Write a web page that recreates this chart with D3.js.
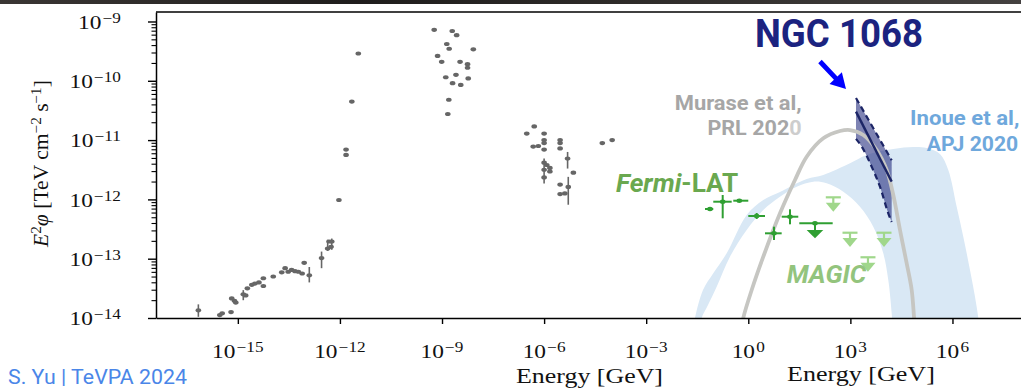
<!DOCTYPE html>
<html>
<head>
<meta charset="utf-8">
<script src="https://cdn.jsdelivr.net/npm/d3@7"></script>
<style>
  html, body { margin: 0; padding: 0; background: #fff; }
  svg { display: block; }
</style>
</head>
<body>
<svg id="chart" width="1021" height="388"></svg>
<script>
// ---------------------------------------------------------------
// Spectral energy distribution of NGC 1068
// All values are log10(E / GeV) and log10(E^2 phi / TeV cm^-2 s^-1)
// ---------------------------------------------------------------

// Archival multi-wavelength photometry (radio to X-ray)
const archivalSED = [
  [-16.16, -13.87],
  [-15.53, -13.95], [-15.46, -13.92], [-15.20, -13.90],
  [-15.18, -13.67], [-15.10, -13.71], [-15.06, -13.74],
  [-14.84, -13.60], [-14.77, -13.62], [-14.72, -13.50],
  [-14.59, -13.44], [-14.50, -13.42], [-14.38, -13.40],
  [-14.25, -13.33], [-14.25, -13.46], [-13.96, -13.30],
  [-13.71, -13.23], [-13.61, -13.16], [-13.52, -13.22], [-13.42, -13.19],
  [-13.32, -13.21], [-13.22, -13.22], [-13.11, -13.25],
  [-13.05, -13.07], [-12.90, -13.28], [-12.54, -12.99],
  [-12.36, -12.83], [-12.32, -12.71], [-12.24, -12.71], [-12.26, -12.80],
  [-12.03, -12.01], [-11.82, -11.16], [-11.82, -11.25], [-11.65, -10.35], [-11.46, -9.54],
  [-9.23, -9.14], [-8.70, -9.16], [-8.57, -9.23], [-8.86, -9.38], [-8.79, -9.46], [-8.08, -9.47],
  [-9.13, -9.58], [-9.01, -9.68], [-8.47, -9.68], [-8.25, -9.72], [-8.25, -9.78],
  [-8.89, -9.94], [-8.59, -9.90], [-8.23, -9.96], [-8.69, -10.04], [-8.45, -10.07],
  [-8.80, -10.32], [-8.83, -10.56],
  [-6.51, -10.89], [-6.29, -10.77], [-6.00, -10.89], [-6.00, -11.00], [-6.00, -11.05],
  [-6.32, -11.11], [-6.17, -11.10], [-6.00, -11.16],
  [-5.53, -11.00], [-5.53, -11.05], [-5.53, -11.14], [-5.31, -11.31],
  [-6.00, -11.38], [-5.92, -11.42], [-5.83, -11.47], [-6.00, -11.50], [-5.83, -11.53], [-6.00, -11.63],
  [-5.14, -11.55], [-5.53, -11.75], [-5.29, -11.79], [-5.53, -11.91], [-5.39, -11.90],
  [-4.29, -11.05], [-4.00, -11.00]
];
// Vertical error bars on archival points: [logE, logLow, logHigh]
const archivalErrors = [
  [-16.16, -13.98, -13.77],
  [-14.84, -13.70, -13.53],
  [-12.90, -13.40, -13.14],
  [-12.54, -13.16, -12.88],
  [-12.36, -12.87, -12.68], [-12.24, -12.85, -12.66],
  [-5.31, -11.48, -11.20],
  [-6.00, -11.73, -11.31],
  [-5.29, -12.09, -11.62]
];

// Fermi-LAT flux points: [logE, logF, logElo, logEhi, logFlo, logFhi]
const fermiPoints = [
  [-1.125, -12.162, -1.272, -1.029, null, null],
  [-0.752, -12.039, -1.029, -0.488, -12.319, -11.926],
  [-0.264, -12.022, -0.441, 0.000, null, null],
  [0.247, -12.280, 0.000, 0.491, -12.330, -12.229],
  [0.755, -12.572, 0.491, 0.981, -12.685, -12.460],
  [1.225, -12.292, 0.981, 1.469, -12.420, -12.167]
];
// Fermi-LAT upper limit: [logE, logF, logElo, logEhi]
const fermiLimits = [[1.960, -12.403, 1.499, 2.480]];

// MAGIC upper limits
const magicLogE = [2.498, 2.989, 3.517, 3.988];
const magicLogF = [-11.965, -12.562, -12.976, -12.562];

// Murase et al., PRL 2020 model
const muraseModel = [
  [-0.20, -14.2], [-0.147, -14.0], [0.10, -13.528], [0.441, -12.966], [0.932, -12.234],
  [1.372, -11.673], [1.716, -11.280], [2.204, -10.970], [2.695, -10.847], [2.989, -10.830],
  [3.379, -10.914], [3.773, -11.167], [4.067, -11.504], [4.261, -11.926], [4.458, -12.516],
  [4.655, -13.078], [4.802, -13.528], [4.869, -13.978], [4.90, -14.2]
];

// Inoue et al., ApJ 2020 model band: upper and lower envelopes
const inoueUpper = [
  [-1.62, -14.2], [-1.566, -14.0], [-1.331, -13.528], [-1.029, -13.246], [-0.635, -12.909],
  [-0.047, -12.263], [0.441, -12.010], [0.932, -11.875], [1.716, -11.656], [2.204, -11.589],
  [2.989, -11.391], [3.479, -11.251], [4.261, -11.150], [4.849, -11.116], [5.242, -11.133],
  [5.633, -11.234], [5.877, -11.504], [6.124, -12.123], [6.318, -12.629], [6.515, -13.191],
  [6.662, -13.641], [6.759, -14.0], [6.79, -14.2]
];
const inoueLower = [
  [-1.40, -14.2], [-1.369, -14.0], [-1.184, -13.781], [-0.929, -13.472], [-0.538, -12.966],
  [-0.047, -12.516], [0.441, -12.179], [0.932, -11.954], [1.422, -11.786], [1.910, -11.702],
  [2.304, -11.729], [2.792, -11.870], [3.282, -12.123], [3.673, -12.460], [3.967, -12.909],
  [4.114, -13.359], [4.214, -13.921], [4.24, -14.2]
];

// IceCube NGC 1068 neutrino spectrum: best fit and confidence envelope
const ngcBest = [[3.165, -10.52], [4.214, -11.70]];
const ngcUpper = [[3.165, -10.29], [4.214, -11.34]];
const ngcLower = [[3.165, -10.98], [3.332, -11.109], [3.626, -11.449], [3.870, -11.786], [4.114, -12.234], [4.214, -12.381]];

// Axis ticks (exponents)
const xTickExps = [-15, -12, -9, -6, -3, 0, 3, 6];
const yTickExps = [-14, -13, -12, -11, -10, -9];

// ---------------------------------------------------------------
const SERIF = "'Liberation Serif','DejaVu Serif',serif";
const SANS = "Roboto,'Liberation Sans',sans-serif";

const svg = d3.select("#chart");
const plotL = 156, plotR = 1021, plotT = 12, plotB = 318;

const x = d3.scaleLog().domain([10 ** -17.405, 10 ** 8.014]).range([plotL, plotR]);
const y = d3.scaleLog().domain([1e-14, 10 ** -8.84]).range([plotB, plotT]);
const X = e => x(10 ** e);
const Y = f => y(10 ** f);

// dark strip along the top edge
const defs = svg.append("defs");
const grad = defs.append("linearGradient").attr("id", "strip");
[["0%", "#3a3634"], ["35%", "#1f1d1c"], ["60%", "#2d2a28"], ["100%", "#444140"]].forEach(([o, c]) =>
  grad.append("stop").attr("offset", o).attr("stop-color", c));
svg.append("rect").attr("x", 0).attr("y", 0).attr("width", 1021).attr("height", 4).attr("fill", "url(#strip)");

defs.append("clipPath").attr("id", "plotclip")
  .append("rect").attr("x", plotL).attr("y", plotT).attr("width", plotR - plotL).attr("height", plotB - plotT);

const plot = svg.append("g").attr("clip-path", "url(#plotclip)");

// smooth closed band from two envelopes
const smooth = d3.line().x(d => X(d[0])).y(d => Y(d[1])).curve(d3.curveCatmullRom.alpha(0.5));
const bandPath = (up, lo) => smooth(up) + "L" + smooth(lo.slice().reverse()).slice(1) + "Z";

// Inoue et al. band
plot.append("path").attr("d", bandPath(inoueUpper, inoueLower)).attr("fill", "#d9e8f5");

// NGC 1068 envelope fill
const straight = d3.line().x(d => X(d[0])).y(d => Y(d[1]));
const curvedLower = d3.line().x(d => X(d[0])).y(d => Y(d[1])).curve(d3.curveMonotoneX);
plot.append("path")
  .attr("d", straight(ngcUpper) + "L" + curvedLower(ngcLower.slice().reverse()).slice(1) + "Z")
  .attr("fill", "#283080").attr("fill-opacity", 0.6);

// Murase et al. model curve
plot.append("path").attr("d", smooth(muraseModel))
  .attr("fill", "none").attr("stroke", "#c6c6c2").attr("stroke-width", 3.8);

// NGC 1068 lines
const navy = "#1c2566";
plot.append("path").attr("d", straight(ngcBest)).attr("fill", "none").attr("stroke", navy).attr("stroke-width", 2.4);
plot.append("path").attr("d", straight(ngcUpper)).attr("fill", "none").attr("stroke", navy)
  .attr("stroke-width", 2.2).attr("stroke-dasharray", "6,4");
plot.append("path").attr("d", curvedLower(ngcLower))
  .attr("fill", "none").attr("stroke", navy).attr("stroke-width", 2.2).attr("stroke-dasharray", "6,4");

// archival points
const grey = "#666666";
plot.append("g").selectAll("line").data(archivalErrors).join("line")
  .attr("x1", d => X(d[0])).attr("x2", d => X(d[0]))
  .attr("y1", d => Y(d[1])).attr("y2", d => Y(d[2]))
  .attr("stroke", grey).attr("stroke-width", 1.6);
plot.append("g").selectAll("ellipse").data(archivalSED).join("ellipse")
  .attr("cx", d => X(d[0])).attr("cy", d => Y(d[1]))
  .attr("rx", 2.8).attr("ry", 2.1).attr("fill", grey);

// Fermi-LAT points
const fermiGreen = "#2f9f32";
const fg = plot.append("g").attr("stroke", fermiGreen).attr("stroke-width", 2);
fermiPoints.forEach(p => {
  fg.append("line").attr("x1", X(p[2])).attr("x2", X(p[3])).attr("y1", Y(p[1])).attr("y2", Y(p[1]));
  if (p[4] !== null) fg.append("line").attr("x1", X(p[0])).attr("x2", X(p[0])).attr("y1", Y(p[4])).attr("y2", Y(p[5]));
  fg.append("ellipse").attr("cx", X(p[0])).attr("cy", Y(p[1])).attr("rx", 2.8).attr("ry", 2.2)
    .attr("fill", fermiGreen).attr("stroke", "none");
});
fermiLimits.forEach(p => {
  const cx = X(p[0]), cy = Y(p[1]);
  fg.append("line").attr("x1", X(p[2])).attr("x2", X(p[3])).attr("y1", cy).attr("y2", cy);
  fg.append("line").attr("x1", cx).attr("x2", cx).attr("y1", cy).attr("y2", cy + 8);
  fg.append("path").attr("d", `M${cx - 8.3},${cy + 6.7}L${cx + 8.3},${cy + 6.7}L${cx},${cy + 15}Z`)
    .attr("fill", fermiGreen).attr("stroke", "none");
  fg.append("ellipse").attr("cx", cx).attr("cy", cy).attr("rx", 2.8).attr("ry", 2.2)
    .attr("fill", fermiGreen).attr("stroke", "none");
});

// MAGIC upper limits
const magicGreen = "#a0d78b";
const mg = plot.append("g");
magicLogE.forEach((e, i) => {
  const cx = X(e), cy = Y(magicLogF[i]);
  mg.append("line").attr("x1", cx - 7.5).attr("x2", cx + 7.5).attr("y1", cy).attr("y2", cy)
    .attr("stroke", magicGreen).attr("stroke-width", 2.2);
  mg.append("line").attr("x1", cx).attr("x2", cx).attr("y1", cy).attr("y2", cy + 7)
    .attr("stroke", magicGreen).attr("stroke-width", 2.2);
  mg.append("path").attr("d", `M${cx - 7.5},${cy + 5.4}L${cx + 7.5},${cy + 5.4}L${cx},${cy + 14.4}Z`)
    .attr("fill", magicGreen);
});

// ---------------------------------------------------------------
// axes
const xAxis = svg.append("g").attr("transform", `translate(0,${plotB})`)
  .call(d3.axisBottom(x).tickValues(xTickExps.map(e => 10 ** e)).tickSize(6).tickSizeOuter(0).tickFormat(() => ""));
xAxis.select(".domain").attr("stroke", "#000").attr("stroke-width", 1.5);
xAxis.selectAll(".tick line").attr("stroke", "#000").attr("stroke-width", 1.4);

const yMinor = [];
yTickExps.forEach(k => { for (let m = 2; m <= 9; m++) { const v = m * 10 ** k; if (v <= 10 ** -8.84) yMinor.push(v); } });
const yAxisMinor = svg.append("g").attr("transform", `translate(${plotL},0)`)
  .call(d3.axisLeft(y).tickValues(yMinor).tickSize(4.5).tickSizeOuter(0).tickFormat(() => ""));
yAxisMinor.select(".domain").remove();
yAxisMinor.selectAll(".tick line").attr("stroke", "#000").attr("stroke-width", 1.1);
const yAxis = svg.append("g").attr("transform", `translate(${plotL},0)`)
  .call(d3.axisLeft(y).tickValues(yTickExps.map(e => 10 ** e)).tickSize(8).tickSizeOuter(0).tickFormat(() => ""));
yAxis.select(".domain").attr("stroke", "#000").attr("stroke-width", 1.5);
yAxis.selectAll(".tick line").attr("stroke", "#000").attr("stroke-width", 1.4);

svg.append("line").attr("x1", plotL).attr("x2", plotR).attr("y1", plotT).attr("y2", plotT)
  .attr("stroke", "#000").attr("stroke-width", 1.5);

// ---------------------------------------------------------------
// text helpers: rich text with superscripts, horizontally fitted
function rich(parent, segs, o) {
  const t = parent.append("text")
    .attr("font-family", o.family).attr("font-size", o.size)
    .attr("font-weight", o.weight || "normal").attr("fill", o.fill);
  let raised = false;
  segs.forEach(s => {
    const sp = t.append("tspan").text(s.t);
    if (s.it) sp.attr("font-style", "italic");
    if (s.sup && !raised) { sp.attr("dy", -o.supShift); raised = true; }
    else if (!s.sup && raised) { sp.attr("dy", o.supShift); raised = false; }
    if (s.sup) sp.attr("font-size", o.supSize);
    if (s.dx) sp.attr("dx", s.dx);
    if (s.fill) sp.attr("fill", s.fill);
  });
  return t;
}
function place(segs, o, px, py, anchor, width, rot) {
  const g = svg.append("g");
  const t = rich(g, segs, o);
  const bb = t.node().getBBox();
  const sx = width ? width / bb.width : (o.sx || 1);
  const off = anchor === "middle" ? -bb.x - bb.width / 2 : anchor === "end" ? -bb.x - bb.width : -bb.x;
  g.attr("transform", `translate(${px},${py})${rot ? ` rotate(${rot})` : ""} scale(${sx},1) translate(${off},0)`);
  return g;
}

const tickStyle = { family: SERIF, size: 19, fill: "#111", supSize: 14, supShift: 6, sx: 1.23 };
const powSegs = e => [{ t: "10" }, { t: e < 0 ? "\u2212" + Math.abs(e) : String(e), sup: true, dx: 1 }];
xTickExps.forEach(e => place(powSegs(e), tickStyle, x(10 ** e), 357.5, "middle"));
yTickExps.forEach(e => place(powSegs(e), tickStyle, 121, y(10 ** e) + 7.3, "end"));

// axis titles
const labStyle = { family: SERIF, size: 20, fill: "#111", supSize: 14, supShift: 7 };
place([{ t: "E", it: true }, { t: "2", sup: true }, { t: "\u03c6", it: true }, { t: " [TeV cm" },
       { t: "\u22122", sup: true }, { t: " s" }, { t: "\u22121", sup: true }, { t: "]" }],
      labStyle, 48, 164, "middle", 168, -90);
const energyStyle = { family: SERIF, size: 21, fill: "#111" };
place([{ t: "Energy [GeV]" }], energyStyle, 516, 383, "start", 147);
place([{ t: "Energy [GeV]" }], energyStyle, 787, 380.5, "start", 148);

// annotations
place([{ t: "NGC 1068" }], { family: SANS, size: 38, weight: "bold", fill: "#1b2380" }, 755, 47, "start", 168);
place([{ t: "Murase et al," }], { family: SANS, size: 21, weight: "bold", fill: "#a6a6a6" }, 801.7, 110, "end", 127);
place([{ t: "PRL 202" }, { t: "0", fill: "#cdcdcd" }], { family: SANS, size: 21, weight: "bold", fill: "#a6a6a6" }, 801.7, 135, "end", 94.3);
place([{ t: "Inoue et al," }], { family: SANS, size: 21, weight: "bold", fill: "#6fa8dc" }, 1019.5, 125, "end", 109.5);
place([{ t: "APJ 2020" }], { family: SANS, size: 21, weight: "bold", fill: "#6fa8dc" }, 1018.3, 150.7, "end", 91.6);
place([{ t: "Fermi", it: true }, { t: "-LAT" }], { family: SANS, size: 26, weight: "bold", fill: "#6aa84f" }, 616, 191.7, "start", 122.3);
place([{ t: "MAGIC", it: true }], { family: SANS, size: 26, weight: "bold", fill: "#93c47d" }, 786.7, 283.3, "start", 80);
place([{ t: "S. Yu | TeVPA 2024" }], { family: SANS, size: 20, fill: "#4a86e8" }, 8, 383.5, "start", 179);

// arrow pointing at the neutrino spectrum
{
  const tipX = X(ngcUpper[0][0]) - 10, tipY = Y(ngcUpper[0][1]) - 9;
  const sx0 = tipX - 26, sy0 = tipY - 27.5;
  const len = Math.hypot(tipX - sx0, tipY - sy0);
  const ux = (tipX - sx0) / len, uy = (tipY - sy0) / len;
  const nx = -uy, ny = ux;
  const bx = tipX - 15 * ux, by = tipY - 15 * uy;
  const sw = 2.4, hw = 8.5;
  const pts = [
    [sx0 + nx * sw, sy0 + ny * sw], [bx + nx * sw, by + ny * sw], [bx + nx * hw, by + ny * hw],
    [tipX, tipY], [bx - nx * hw, by - ny * hw], [bx - nx * sw, by - ny * sw], [sx0 - nx * sw, sy0 - ny * sw]
  ];
  svg.append("path").attr("d", "M" + pts.map(p => p.join(",")).join("L") + "Z").attr("fill", "#0000ff");
}
</script>
</body>
</html>
